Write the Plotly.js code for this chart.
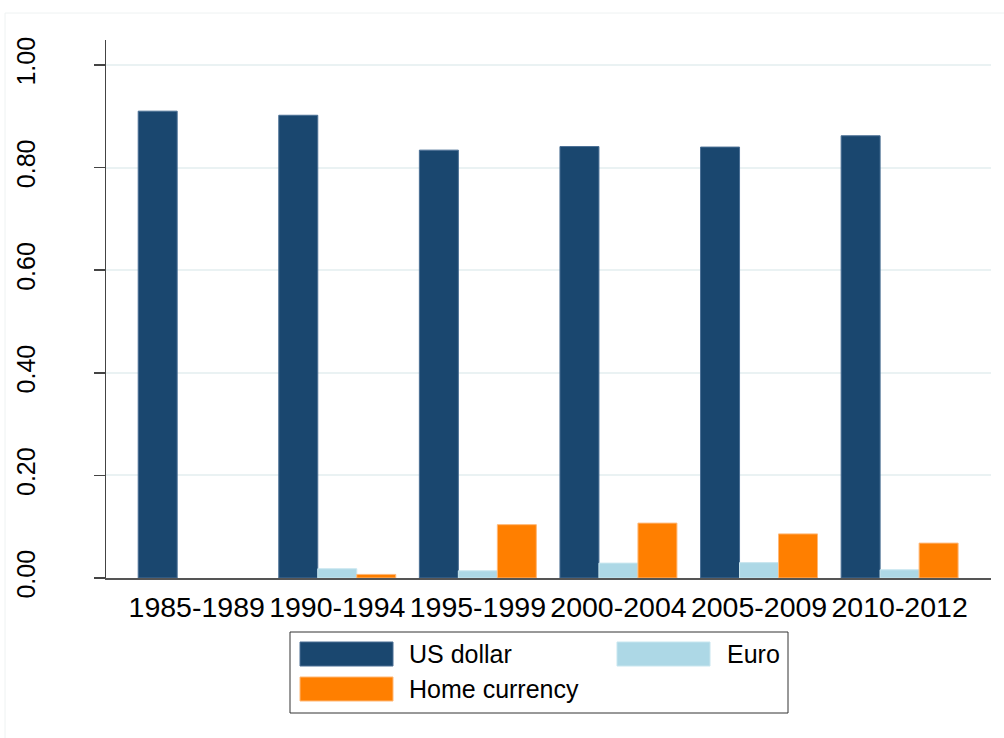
<!DOCTYPE html>
<html>
<head>
<meta charset="utf-8">
<script src="https://cdn.plot.ly/plotly-3.0.1.min.js"></script>
<style>html,body{margin:0;padding:0;background:#fff;}#chart{width:1004px;height:738px;}</style>
</head>
<body>
<div id="chart"></div>
<script>
const periods = ["1985-1989","1990-1994","1995-1999","2000-2004","2005-2009","2010-2012"];
const usDollar = [0.910, 0.902, 0.834, 0.841, 0.840, 0.862];
const euro = [null, 0.018, 0.014, 0.029, 0.030, 0.016];
const homeCurrency = [null, 0.007, 0.104, 0.107, 0.086, 0.068];
const seriesNames = ["US dollar", "Euro", "Home currency"];
const yTicks = [0, 0.2, 0.4, 0.6, 0.8, 1.0];
const yTickLabels = ["0.00","0.20","0.40","0.60","0.80","1.00"];

const colors = ["#1a476f", "#add8e6", "#ff7f00"];
const edge = ["#4a6f94", "#c8e6ef", "#ffb877"];
const seriesVals = [usDollar, euro, homeCurrency];

const traces = seriesVals.map((v, i) => ({
  type: "bar", x: periods, y: v, name: seriesNames[i],
  marker: {color: colors[i], line: {color: edge[i], width: 1}},
  showlegend: false, hoverinfo: "x+y+name"
}));

const font = "Liberation Sans, Arial, sans-serif";
const L = 106, R = 991, T = 40, B = 578;
const px = x => (x - L) / (R - L);
const py = y => (B - y) / (B - T);
const shapes = [
  // outer faint frame
  {type:"line", xref:"paper", yref:"paper", x0:px(5), x1:px(1004), y0:py(13), y1:py(13), line:{color:"#eef2f2", width:1}},
  {type:"line", xref:"paper", yref:"paper", x0:px(5), x1:px(5), y0:py(13), y1:py(738), line:{color:"#eef2f2", width:1}},
];
const annotations = [];
// custom legend
shapes.push({type:"rect", xref:"paper", yref:"paper", x0:px(290), x1:px(788), y0:py(713), y1:py(632), line:{color:"#333", width:1}, fillcolor:"#fff"});
const legendPos = [
  {sx:300, sy:642, tx:407},
  {sx:617, sy:642, tx:725},
  {sx:300, sy:677, tx:407}
];
legendPos.forEach((p, i) => {
  shapes.push({type:"rect", xref:"paper", yref:"paper", x0:px(p.sx), x1:px(p.sx+93), y0:py(p.sy+24), y1:py(p.sy), line:{color:edge[i], width:1}, fillcolor:colors[i]});
  annotations.push({xref:"paper", yref:"paper", x:px(p.tx), y:py(p.sy+12), xanchor:"left", yanchor:"middle", text:seriesNames[i], showarrow:false, font:{family:font, size:25, color:"#000"}});
});

const layout = {
  width: 1004, height: 738,
  margin: {l: L, r: 1004 - R, t: T, b: 738 - B},
  paper_bgcolor: "#fff", plot_bgcolor: "#fff",
  barmode: "group", bargap: 0.168, bargroupgap: 0,
  font: {family: font, color: "#000"},
  xaxis: {
    type: "category", range: [-0.645, 5.65],
    showline: true, linecolor: "#555", linewidth: 1.5,
    ticks: "", showgrid: false, zeroline: false,
    tickfont: {size: 28.5, family: font, color: "#000"},
    ticklabelstandoff: 3
  },
  yaxis: {
    range: [0, 1.0487],
    tickvals: yTicks, ticktext: yTickLabels, tickangle: -90,
    showline: true, linecolor: "#444", linewidth: 1.5,
    ticks: "outside", ticklen: 11, tickcolor: "#444", tickwidth: 1.5,
    showgrid: true, gridcolor: "#eaf2f3", gridwidth: 2,
    zeroline: false,
    tickfont: {size: 25, family: font, color: "#000"},
    ticklabelstandoff: 49
  },
  shapes: shapes, annotations: annotations
};

Plotly.newPlot("chart", traces, layout, {displayModeBar: false, staticPlot: true});
</script>
</body>
</html>
